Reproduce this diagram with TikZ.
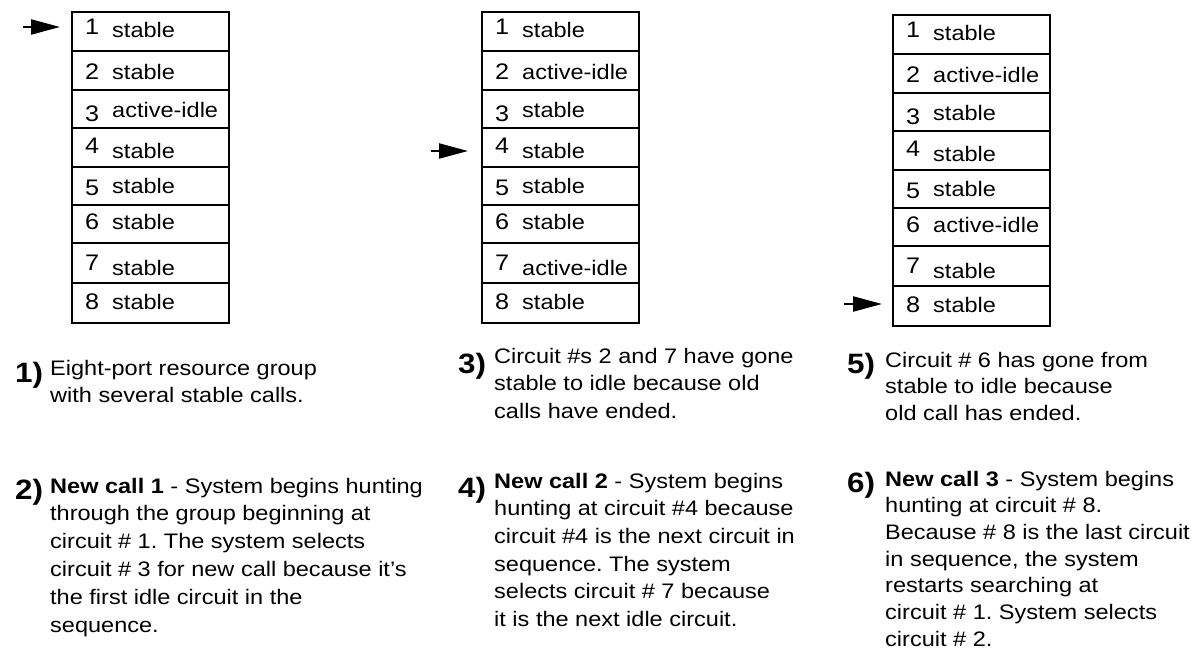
\documentclass[tikz,border=0pt]{standalone}
\usepackage{fontspec}
\setmainfont{Liberation Sans}[FakeStretch=1.12]
\usetikzlibrary{arrows.meta}
\frenchspacing
\tikzset{
  cell/.style={draw, line width=1.8pt, minimum width=157pt, inner sep=0pt, outer sep=0pt, anchor=north west},
  celltext/.style={anchor=base west, inner sep=0pt, font=\fontsize{21}{27}\selectfont},
  cellnum/.style={anchor=base west, inner sep=0pt, font=\fontsize{22.5}{27}\selectfont},
  stepnum/.style={anchor=base west, inner sep=0pt, font=\bfseries\fontsize{28}{28}\selectfont},
  desc/.style={anchor=base west, inner sep=0pt, align=left},
  ptr/.style={line width=2.2pt, -{Triangle[length=29pt,width=15pt]}}
}
\newcommand\circuittable[4]{%
  \foreach \st [count=\i from 0] in {#4} {
    \pgfmathsetmacro\T{{12,51,90,128,167,205,243,283,323}[\i]+#3}
    \pgfmathsetmacro\B{{12,51,90,128,167,205,243,283,323}[\i+1]+#3}
    \pgfmathsetmacro\H{\B-\T}
    \pgfmathsetmacro\tb{{26,29,28,31,27,25,32,26}[\i]}
    \pgfmathsetmacro\db{{23,29,32,26,29,25,27,26}[\i]}
    \pgfmathtruncatemacro\n{\i+1}
    \node[cell, minimum height=\H pt] (#1r\n) at (#2,\T) {};
    \node[cellnum] (#1n\n) at (#2+13,\T+\db) {\n};
    \node[celltext] (#1s\n) at (#2+40,\T+\tb) {\st};
  }
}
\begin{document}
\begin{tikzpicture}[x=1pt,y=-1pt]
\useasboundingbox (0,0) rectangle (1201,652);

\circuittable{ta}{72}{0}{stable,stable,active-idle,stable,stable,stable,stable,stable}
\circuittable{tb}{482}{0}{stable,active-idle,stable,stable,stable,stable,active-idle,stable}
\circuittable{tc}{893}{3}{stable,active-idle,stable,stable,stable,active-idle,stable,stable}

\coordinate (pa) at (23,27);
\coordinate (pb) at (431,151);
\coordinate (pc) at (844,304);
\draw[ptr, shorten >=12pt] (pa) -- (pa -| tar1.west);
\draw[ptr, shorten >=14pt] (pb) -- (pb -| tbr4.west);
\draw[ptr, shorten >=11pt] (pc) -- (pc -| tcr8.west);

% column 1 (anchors are on the last line's baseline)
\node[stepnum] (l1) at (15,382) {1)};
\node[desc, font=\fontsize{21}{27.8}\selectfont] (d1) at (50,402.8)
  {Eight-port resource group\\with several stable calls.};
\node[stepnum] (l2) at (15,499) {2)};
\node[desc, font=\fontsize{21}{27.8}\selectfont] (d2) at (50,632)
  {\textbf{New call 1} - System begins hunting\\through the group beginning at\\circuit \# 1. The system selects\\circuit \# 3 for new call because it’s\\the first idle circuit in the\\sequence.};

% column 2
\node[stepnum] (l3) at (458,373) {3)};
\node[desc, font=\fontsize{21}{27.7}\selectfont] (d3) at (494,418.4)
  {Circuit \#s 2 and 7 have gone\\stable to idle because old\\calls have ended.};
\node[stepnum] (l4) at (458,497) {4)};
\node[desc, font=\fontsize{21}{27.7}\selectfont] (d4) at (494,626.5)
  {\textbf{New call 2} - System begins\\hunting at circuit \#4 because\\circuit \#4 is the next circuit in\\sequence. The system\\selects circuit \# 7 because\\it is the next idle circuit.};

% column 3
\node[stepnum] (l5) at (847,373) {5)};
\node[desc, font=\fontsize{21}{26.7}\selectfont] (d5) at (885,420.4)
  {Circuit \# 6 has gone from\\stable to idle because\\old call has ended.};
\node[stepnum] (l6) at (847,492) {6)};
\node[desc, font=\fontsize{21}{26.7}\selectfont] (d6) at (885,646.2)
  {\textbf{New call 3} - System begins\\hunting at circuit \# 8.\\Because \# 8 is the last circuit\\in sequence, the system\\restarts searching at\\circuit \# 1. System selects\\circuit \# 2.};
\end{tikzpicture}
\end{document}
